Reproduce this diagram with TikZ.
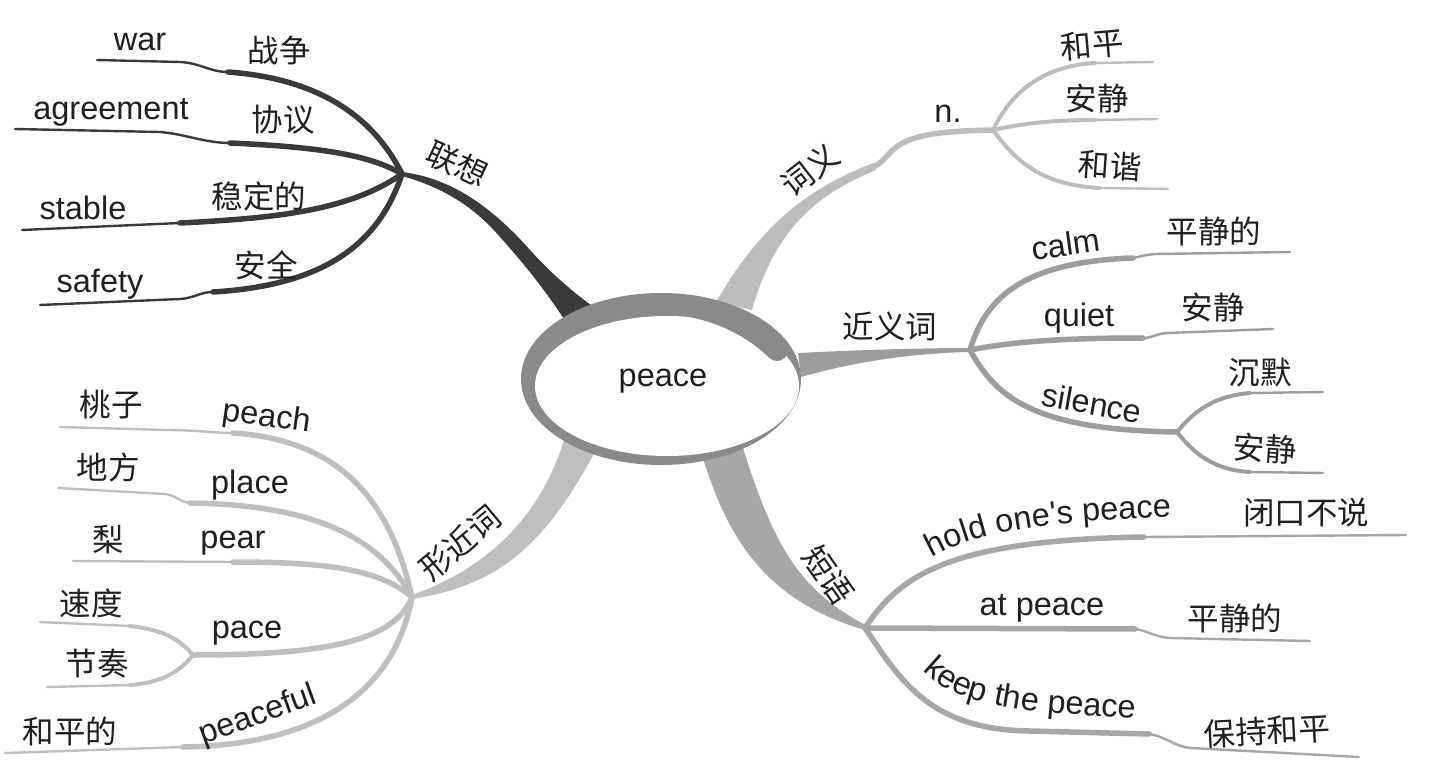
\documentclass[tikz,border=0pt]{standalone}
\usepackage{fontspec}
\setmainfont{Liberation Sans}
\newfontfamily\cjk{Noto Sans CJK SC}
\usetikzlibrary{decorations.text}
\definecolor{txt}{HTML}{231F20}
\definecolor{cLX}{HTML}{3B393A}
\definecolor{cCY}{HTML}{BDBDBD}
\definecolor{cJY}{HTML}{9D9D9D}
\definecolor{cDY}{HTML}{A7A7A7}
\definecolor{cXJ}{HTML}{BFBFBF}
\definecolor{cEl}{HTML}{8A8A8A}
\newcommand\enfont{\fontsize{32.5}{38}\selectfont}
\newcommand\zhfont{\cjk\fontsize{31.5}{38}\selectfont}
\begin{document}
\begin{tikzpicture}[x=1pt,y=-1pt,
  en/.style={font=\enfont,text=txt,inner sep=0pt},
  zh/.style={font=\zhfont,text=txt,inner sep=0pt},
  thk/.style={line width=5.5pt,line cap=round},
  mid/.style={line width=4pt,line cap=round},
  thn/.style={line width=2.4pt,line cap=round},
  curvetext/.style={decorate,decoration={text along path,text align=center,text color=txt}}]
\useasboundingbox (0,0) rectangle (1429,783);
\fill[white] (0,0) rectangle (1429,783);

% junctions
\coordinate (jLX) at (402,174);
\coordinate (jN) at (993,130);
\coordinate (jJ) at (970,350);
\coordinate (jS) at (1177,432);
\coordinate (jD) at (865,628);
\coordinate (jX) at (412,597);
\coordinate (jP) at (193,655);
% ends
\coordinate (eWar) at (97,60);
\coordinate (eAgree) at (15,129);
\coordinate (eStable) at (22,230);
\coordinate (eSafety) at (40,305);
\coordinate (eHeping) at (1153,62);
\coordinate (eAnjing1) at (1157,119);
\coordinate (eHexie) at (1168,189);
\coordinate (eCalm) at (1290,252);
\coordinate (eQuiet) at (1273,329);
\coordinate (eChenmo) at (1323,392);
\coordinate (eAnjing3) at (1323,473);
\coordinate (eHold) at (1406,535);
\coordinate (eAt) at (1310,641);
\coordinate (eKeep) at (1359,757);
\coordinate (ePeach) at (60,427);
\coordinate (ePlace) at (58,488);
\coordinate (ePear) at (73,561);
\coordinate (eSudu) at (40,622);
\coordinate (eJiezou) at (47,687);
\coordinate (ePeaceful) at (5,753);

% ---------- main branches ----------
\fill[cLX] (jLX) ++(0,-2) .. controls (450,178) and (490,205) .. (530,250)
  .. controls (550,272) and (570,290) .. (595,308) -- (566,322)
  .. controls (545,290) and (525,265) .. (500,237)
  .. controls (475,208) and (445,188) .. (402,176) -- cycle;
\fill[cCY] (716,302) .. controls (755,235) and (800,190) .. (874,163)
  -- (876,170) .. controls (815,195) and (775,230) .. (752,310) -- cycle;
\draw[cCY,thk] (875,166) .. controls (883,162) and (886,156) .. (895,148)
  .. controls (912,134) and (945,131) .. (jN);
\fill[cJY] (798,353) .. controls (860,350) and (920,348) .. (970,348)
  -- (970,352) .. controls (920,353) and (860,360) .. (801,377) -- cycle;
\fill[cDY] (702,455) .. controls (725,530) and (760,600) .. (865,630)
  -- (867,626) .. controls (800,590) and (775,550) .. (742,445) -- cycle;
\fill[cXJ] (564,440) .. controls (548,492) and (510,560) .. (412,595)
  -- (412,599) .. controls (500,585) and (545,545) .. (596,450) -- cycle;

% ---------- 联想 sub-branches ----------
\begin{scope}[cLX]
\draw[thn] (eWar) -- (180,62) .. controls (200,63) and (210,72) .. (228,72);
\draw[thk] (228,72) .. controls (310,78) and (370,110) .. (jLX);
\draw[thn] (eAgree) -- (160,132) .. controls (185,134) and (205,143) .. (230,143);
\draw[thk] (230,143) .. controls (320,147) and (370,155) .. (jLX);
\draw[thn] (eStable) -- (180,223);
\draw[thk] (180,223) .. controls (280,218) and (350,210) .. (jLX);
\draw[thn] (eSafety) -- (180,299) .. controls (195,298) and (200,292) .. (213,292);
\draw[thk] (213,292) .. controls (330,285) and (380,240) .. (jLX);
\end{scope}

% ---------- 词义 sub-branches ----------
\begin{scope}[cCY]
\draw[mid] (jN) .. controls (1010,95) and (1040,66) .. (1095,63);
\draw[thn] (1095,63) -- (eHeping);
\draw[mid] (jN) .. controls (1030,122) and (1060,120) .. (1095,120);
\draw[thn] (1095,120) -- (eAnjing1);
\draw[mid] (jN) .. controls (1015,160) and (1040,185) .. (1100,188);
\draw[thn] (1100,188) -- (eHexie);
\end{scope}

% ---------- 近义词 sub-branches ----------
\begin{scope}[cJY]
\draw[thk] (jJ) .. controls (985,300) and (1020,262) .. (1133,258);
\draw[thn] (1133,258) .. controls (1142,256) and (1145,255) .. (1155,254) -- (eCalm);
\draw[thk] (jJ) .. controls (1020,340) and (1080,338) .. (1143,338);
\draw[thn] (1143,338) .. controls (1152,338) and (1158,333) .. (1168,333) -- (eQuiet);
\draw[thk] (jJ) .. controls (995,395) and (1030,430) .. (jS);
\draw[mid] (jS) .. controls (1195,410) and (1215,396) .. (1250,393);
\draw[thn] (1250,393) -- (eChenmo);
\draw[mid] (jS) .. controls (1195,455) and (1215,470) .. (1250,472);
\draw[thn] (1250,472) -- (eAnjing3);
\end{scope}

% ---------- 短语 sub-branches ----------
\begin{scope}[cDY]
\draw[thk] (jD) .. controls (900,575) and (950,540) .. (1144,537);
\draw[thn] (1144,537) -- (eHold);
\draw[thk] (jD) -- (1135,629);
\draw[thn] (1135,629) .. controls (1145,630) and (1155,637) .. (1170,638) -- (eAt);
\draw[thk] (jD) .. controls (900,680) and (930,730) .. (1030,731) -- (1149,734);
\draw[thn] (1149,734) .. controls (1165,736) and (1175,747) .. (1191,748) -- (eKeep);
\end{scope}

% ---------- 形近词 sub-branches ----------
\begin{scope}[cXJ]
\draw[thk] (jX) .. controls (390,500) and (340,440) .. (233,433);
\draw[thn] (233,433) .. controls (215,433) and (195,430) .. (167,430) -- (ePeach);
\draw[thk] (jX) .. controls (380,540) and (320,505) .. (190,503);
\draw[thn] (190,503) .. controls (180,502) and (175,495) .. (165,494) -- (ePlace);
\draw[thk] (jX) .. controls (380,570) and (330,562) .. (233,562);
\draw[thn] (233,562) -- (ePear);
\draw[thk] (jX) .. controls (395,640) and (330,655) .. (jP);
\draw[mid] (jP) .. controls (180,640) and (165,630) .. (130,626);
\draw[thn] (130,626) -- (eSudu);
\draw[mid] (jP) .. controls (180,672) and (160,683) .. (130,685);
\draw[thn] (130,685) -- (eJiezou);
\draw[thk] (jX) .. controls (395,690) and (320,745) .. (183,747);
\draw[thn] (183,747) -- (ePeaceful);
\end{scope}

% ---------- central swirl ----------
\fill[cEl] (661,379) ellipse [x radius=140pt, y radius=86pt];
\fill[white] (667,386) ellipse [x radius=132pt, y radius=70pt];
\draw[cEl,line width=22pt,line cap=round] (690,306) .. controls (725,312) and (757,330) .. (777,350);
\node[en] (center) at (663,381) {peace};

% ---------- labels ----------
\node[zh,rotate=-25] (tLX) at (457,164) {联想};
\node[en] (tWar) at (140,42) {war};
\node[zh] (tZhanzheng) at (279,51) {战争};
\node[en] (tAgree) at (111,112) {agreement};
\node[zh] (tXieyi) at (283,120) {协议};
\node[en] (tStable) at (83,208) {stable};
\node[zh] (tWending) at (259,196) {稳定的};
\node[en] (tSafety) at (100,284) {safety};
\node[zh] (tAnquan) at (266,265) {安全};

\node[zh,rotate=38] (tCY) at (810,170) {词义};
\node[en] (tN) at (948,114) {n.};
\node[zh,rotate=5] (tHeping) at (1092,45) {和平};
\node[zh] (tAnjing1) at (1097,99) {安静};
\node[zh,rotate=-4] (tHexie) at (1110,166) {和谐};

\node[zh] (tJY) at (890,326) {近义词};
\node[en,rotate=8] (tCalm) at (1066,244) {calm};
\node[zh] (tPingjing1) at (1214,231) {平静的};
\node[en] (tQuiet) at (1079,318) {quiet};
\node[zh] (tAnjing2) at (1213,307) {安静};
\node[en,rotate=-10] (tSilence) at (1092,403) {silence};
\node[zh] (tChenmo) at (1260,373) {沉默};
\node[zh,rotate=-4] (tAnjing3) at (1265,449) {安静};

\node[zh,rotate=-55] (tDY) at (828,575) {短语};
\path[curvetext,decoration={text={|\enfont|hold one{\textquotesingle}s peace}}]
  (926,561) .. controls (968,535) and (1030,521) .. (1178,517);
\node[zh] (tBikou) at (1306,513) {闭口不说};
\node[en] (tAtpeace) at (1042,608) {at peace};
\node[zh] (tPingjing2) at (1235,618) {平静的};
\path[curvetext,decoration={text={|\enfont|keep the peace}}]
  (923,670) .. controls (953,700) and (990,712) .. (1135,718);
\node[zh,rotate=3] (tBaochi) at (1267,731) {保持和平};

\node[zh,rotate=40] (tXJ) at (460,543) {形近词};
\node[zh] (tTaozi) at (111,405) {桃子};
\node[en,rotate=-8] (tPeach) at (267,418) {peach};
\node[zh] (tDifang) at (108,467) {地方};
\node[en] (tPlace) at (250,485) {place};
\node[zh] (tLi) at (108,540) {梨};
\node[en] (tPear) at (233,543) {pear};
\node[zh] (tSudu) at (91,603) {速度};
\node[zh] (tJiezou) at (97,664) {节奏};
\node[en] (tPace) at (247,633) {pace};
\node[zh] (tHepingde) at (70,731) {和平的};
\node[en,rotate=20] (tPeaceful) at (258,716) {peaceful};
\end{tikzpicture}
\end{document}
